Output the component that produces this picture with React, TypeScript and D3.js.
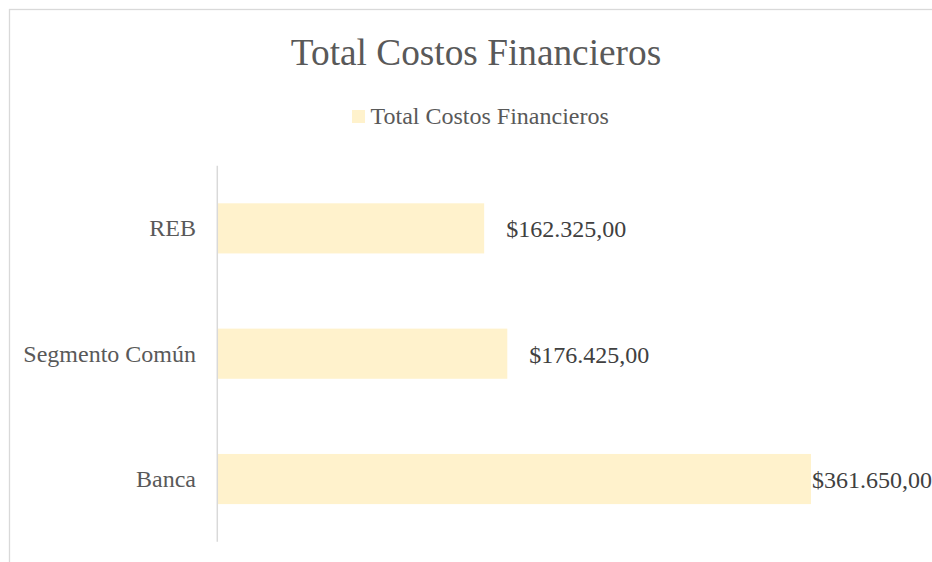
import React from 'react';
import * as d3 from 'd3';

// datos
const categories = ['Banca', 'Segmento Común', 'REB'];
const values = [361650, 176425, 162325];
const seriesName = 'Total Costos Financieros';
const chartTitle = 'Total Costos Financieros';

const W = 932;
const H = 562;
const font = '"Liberation Serif", "Times New Roman", serif';

const fmt = (v: number) => {
  const s = d3.format(',.2f')(v); // 162,325.00
  return '$' + s.replace(/,/g, '#').replace('.', ',').replace(/#/g, '.');
};

export default function App() {
  const x = d3.scaleLinear().domain([0, d3.max(values) as number]).range([218, 811]);
  // Excel draws the first category at the bottom
  const y = d3
    .scaleBand()
    .domain([...categories].reverse())
    .range([165.7, 541.7])
    .paddingInner(0.6)
    .paddingOuter(0.3);

  const labelW = 120;
  const plotRight = 932;

  return (
    <svg
      width={W}
      height={H}
      style={{ position: 'absolute', left: 0, top: 0, fontFamily: font }}
    >
      <rect x={0} y={0} width={W} height={H} fill="#fff" />
      <rect x={9.5} y={9.5} width={933} height={570} fill="#fff" stroke="#d9d9d9" strokeWidth={1.3} />

      <text x={476} y={64.5} textAnchor="middle" fontSize={37.3} fill="#595959">
        {chartTitle}
      </text>

      <g>
        <rect x={352} y={110} width={13} height={13} fill="#fff2cc" />
        <text x={370.5} y={124} fontSize={24} fill="#595959">
          {seriesName}
        </text>
      </g>

      {categories.map((c, i) => {
        const by = y(c) as number;
        const bw = y.bandwidth();
        const xe = x(values[i]);
        const lx = Math.min(xe + 22, plotRight - labelW);
        return (
          <g key={c}>
            <rect x={x(0)} y={by} width={xe - x(0)} height={bw} fill="#fff2cc" />
            <text x={196} y={by + bw / 2 + 8} textAnchor="end" fontSize={24} fill="#595959">
              {c}
            </text>
            <text x={lx} y={by + bw / 2 + 9} fontSize={24} fill="#404040">
              {fmt(values[i])}
            </text>
          </g>
        );
      })}

      <line x1={217.3} x2={217.3} y1={165.7} y2={541.7} stroke="#d9d9d9" strokeWidth={1.5} />
    </svg>
  );
}
